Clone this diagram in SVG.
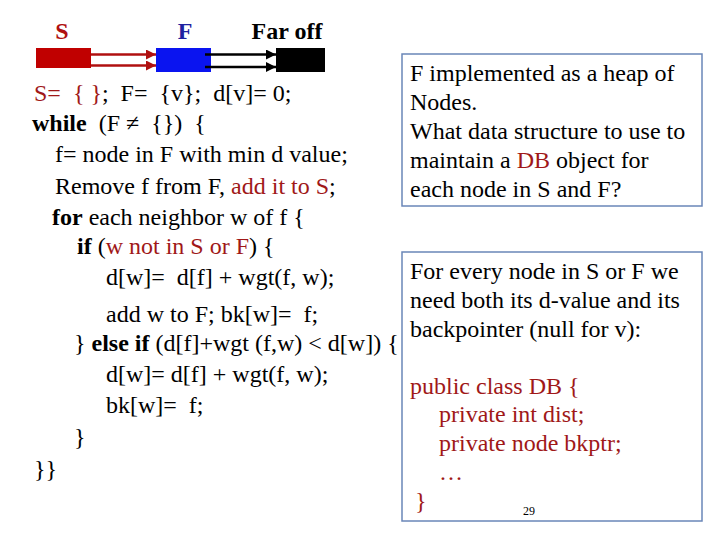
<svg xmlns="http://www.w3.org/2000/svg" width="720" height="540" viewBox="0 0 720 540">
<defs>
<style>
text{font-family:"Liberation Serif","Times New Roman",serif;font-size:24px;fill:#000;white-space:pre}
.r{fill:#A01818}
.b{font-weight:bold}
.lbl{font-weight:bold;font-size:24px}
.box{fill:#fff;stroke:#6A86B8;stroke-width:1.5}
.cr{stroke:#B01010;stroke-width:2.5;fill:none}
.ck{stroke:#000;stroke-width:2.5;fill:none}
</style>
<marker id="ar" viewBox="0 0 10 10" refX="10" refY="5" markerWidth="4" markerHeight="4" orient="auto" markerUnits="strokeWidth"><path d="M0,0L10,5L0,10z" fill="#B01010"/></marker>
<marker id="ak" viewBox="0 0 10 10" refX="10" refY="5" markerWidth="4" markerHeight="4" orient="auto" markerUnits="strokeWidth"><path d="M0,0L10,5L0,10z" fill="#000"/></marker>
</defs>
<rect width="720" height="540" fill="#fff"/>
<g id="node-S">
<text class="lbl" x="62" y="39" text-anchor="middle" style="fill:#B01010">S</text>
<rect x="36" y="48" width="55" height="20" fill="#C00000"/>
</g>
<g id="node-F">
<text class="lbl" x="185" y="39" text-anchor="middle" style="fill:#1E22A0">F</text>
<rect x="156" y="48" width="55" height="24" fill="#0A14F0"/>
</g>
<g id="node-Far">
<text class="lbl" x="287" y="39" text-anchor="middle">Far off</text>
<rect x="276" y="48" width="49" height="24" fill="#000"/>
</g>
<g id="connectors">
<line class="cr" x1="91" y1="54.5" x2="156" y2="54.5" marker-end="url(#ar)"/>
<line class="cr" x1="91" y1="65.5" x2="156" y2="65.5" marker-end="url(#ar)"/>
<line class="ck" x1="205" y1="54.5" x2="276" y2="54.5" marker-end="url(#ak)"/>
<line class="ck" x1="205" y1="67" x2="276" y2="67" marker-end="url(#ak)"/>
</g>
<g id="code">
<text x="34" y="101"><tspan class="r">S=  { }</tspan>;  F=  {v};  d[v]= 0;</text>
<text x="32" y="131"><tspan class="b">while</tspan>  (F ≠  {})  {</text>
<text x="55" y="162">f= node in F with min d value;</text>
<text x="55" y="194">Remove f from F, <tspan class="r">add it to S</tspan>;</text>
<text x="52" y="225"><tspan class="b">for</tspan> each neighbor w of f {</text>
<text x="77" y="254"><tspan class="b">if</tspan> (<tspan class="r">w not in S or F</tspan>) {</text>
<text x="106" y="285">d[w]=  d[f] + wgt(f, w);</text>
<text x="106" y="322">add w to F; bk[w]=  f;</text>
<text x="74" y="351">} <tspan class="b">else if</tspan> (d[f]+wgt (f,w) &lt; d[w]) {</text>
<text x="106" y="382">d[w]= d[f] + wgt(f, w);</text>
<text x="106" y="413">bk[w]=  f;</text>
<text x="74" y="445">}</text>
<text x="34" y="477">}}</text>
</g>
<g id="box-heap">
<rect class="box" x="402" y="54" width="300" height="152"/>
<text x="410" y="81">F implemented as a heap of</text>
<text x="410" y="110">Nodes.</text>
<text x="410" y="139">What data structure to use to</text>
<text x="410" y="168">maintain a <tspan class="r">DB</tspan> object for</text>
<text x="410" y="197">each node in S and F?</text>
</g>
<g id="box-db">
<rect class="box" x="402" y="252" width="300" height="269"/>
<text x="410" y="279">For every node in S or F we</text>
<text x="410" y="308">need both its d-value and its</text>
<text x="410" y="337">backpointer (null for v):</text>
<text class="r" x="410" y="394">public class DB {</text>
<text class="r" x="439" y="422">private int dist;</text>
<text class="r" x="439" y="451">private node bkptr;</text>
<text class="r" x="439" y="480">…</text>
<text class="r" x="415" y="509">}</text>
<text x="523" y="515" style="font-size:12px">29</text>
</g>
</svg>
